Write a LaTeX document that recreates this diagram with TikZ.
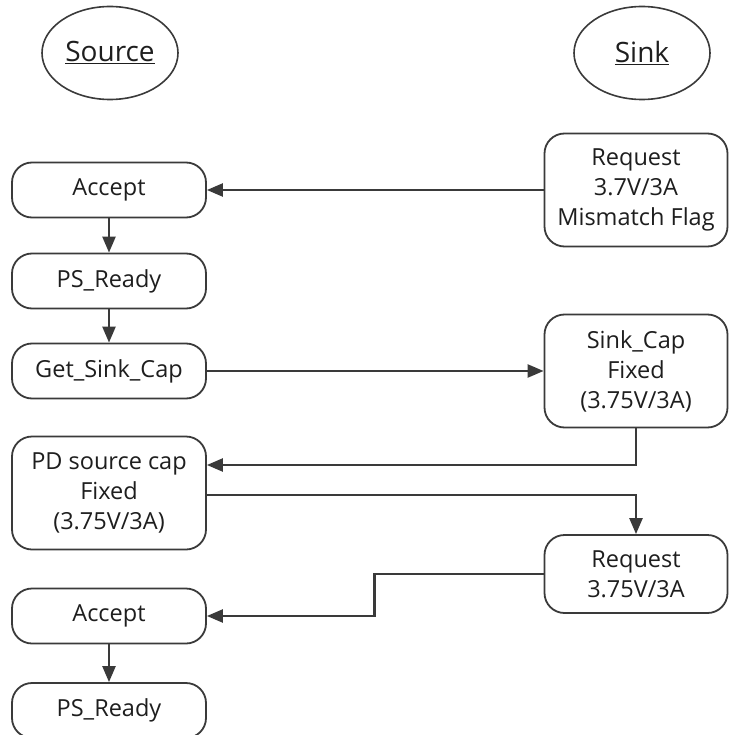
\documentclass[tikz,border=0pt]{standalone}
\usepackage{fontspec}
\setmainfont{Open Sans}
\usepackage{tikz}
\usetikzlibrary{arrows.meta,shapes.geometric}
\definecolor{LineGray}{HTML}{3A3A3A}
\definecolor{TextGray}{HTML}{1E1E1E}

\begin{document}
\begin{tikzpicture}[x=1pt,y=-1pt,
  role/.style={ellipse, draw=LineGray, line width=1.6pt, inner sep=0pt,
    minimum width=136pt, minimum height=93pt, text=TextGray,
    font=\fontsize{28}{32}\selectfont},
  msg/.style={rectangle, rounded corners=20pt, draw=LineGray, line width=1.8pt,
    fill=white, text=TextGray, align=center, inner sep=0pt,
    font=\fontsize{23.5}{30}\selectfont},
  srcbox/.style={msg, minimum width=194pt, minimum height=55pt},
  snkbox/.style={msg, minimum width=183pt},
  arr/.style={draw=LineGray, line width=2.4pt,
    -{Triangle[length=16pt,width=13pt]}}]
  \useasboundingbox (0,0) rectangle (728,735);

  % column heads
  \node[role] (src) at (110,53) {\underline{Source}};
  \node[role] (snk) at (642,53) {\underline{Sink}};

  % source side
  \node[srcbox] (acc1) at (109,190) {Accept};
  \node[srcbox] (rdy1) at (109,281) {PS\_Ready};
  \node[srcbox] (gsc)  at (109,371) {Get\_Sink\_Cap};
  \node[srcbox, minimum height=113pt] (pdsc) at (109,493)
    {PD source cap\\Fixed\\(3.75V/3A)};
  \node[srcbox] (acc2) at (109,616) {Accept};
  \node[srcbox] (rdy2) at (109,710.5) {PS\_Ready};

  % sink side
  \node[snkbox, minimum height=113pt] (req1) at (636,190)
    {Request\\3.7V/3A\\Mismatch Flag};
  \node[snkbox, minimum height=113pt] (scap) at (636,371)
    {Sink\_Cap\\Fixed\\(3.75V/3A)};
  \node[snkbox, minimum height=78pt] (req2) at (636,574)
    {Request\\3.75V/3A};

  % messages
  \draw[arr] (req1.west) -- (acc1.east);
  \draw[arr] (acc1) -- (rdy1);
  \draw[arr] (rdy1) -- (gsc);
  \draw[arr] (gsc.east) -- (scap.west);
  \draw[arr] (scap.south) |- ([yshift=28pt]pdsc.east);
  \draw[arr] ([yshift=-2pt]pdsc.east) -| (req2.north);
  \draw[arr] (req2.west) -- ++(-169,0) |- (acc2.east);
  \draw[arr] (acc2) -- (rdy2);
\end{tikzpicture}
\end{document}
